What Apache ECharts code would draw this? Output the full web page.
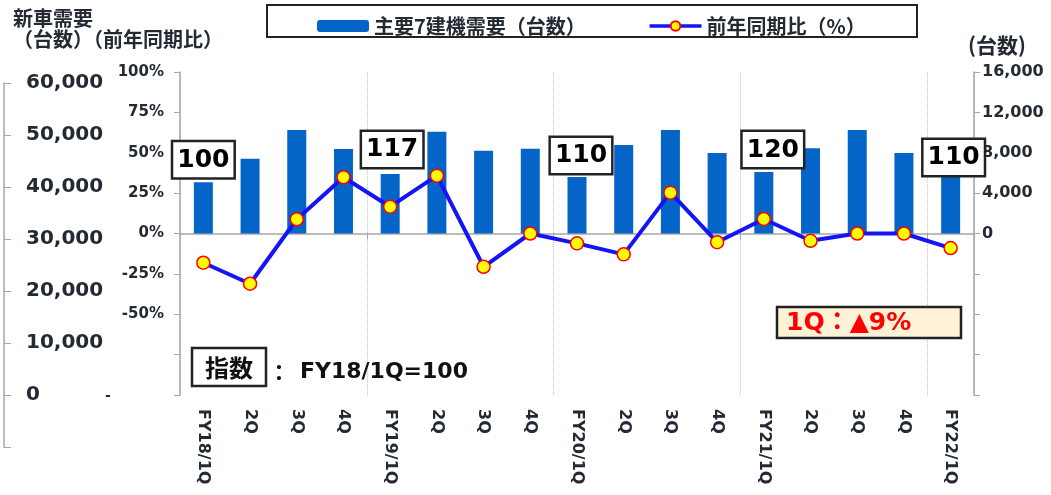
<!DOCTYPE html>
<html>
<head>
<meta charset="utf-8">
<script src="https://cdn.jsdelivr.net/npm/echarts@6/dist/echarts.min.js"></script>
<style>
html,body{margin:0;padding:0;background:#fff;}
#c{width:1051px;height:495px;}
</style>
</head>
<body>
<div id="c"></div>
<script>
// ---- data ----
const categories = ['FY18/1Q','2Q','3Q','4Q','FY19/1Q','2Q','3Q','4Q','FY20/1Q','2Q','3Q','4Q','FY21/1Q','2Q','3Q','4Q','FY22/1Q'];
const demand = [5070, 7410, 10250, 8370, 5900, 10090, 8200, 8400, 5600, 8770, 10250, 7980, 6090, 8440, 10250, 7980, 5600];
const yoy = [-18.1, -31.1, 8.8, 34.8, 16.6, 35.8, -20.6, 0, -6.1, -12.9, 25.3, -5.4, 9.0, -4.5, 0, 0, -9.0];
const indexCats = [0, 4, 8, 12, 16];
const indexLabels = ['100', '117', '110', '120', '110'];
const pctTicks = [-100, 100, 25];
const rightTicks = [-16000, 16000, 4000];
const outerTicks = [-10000, 60000, 10000];
const seriesNames = ['主要7建機需要（台数）', '前年同期比（%）'];

// ---- styles ----
const FONT = 'DejaVu Sans, Verdana, "Noto Sans CJK JP", sans-serif';
const CJK = '"Noto Sans CJK JP", "DejaVu Sans", sans-serif';
const TXT = '#232a33';
const AX = '#a6a6a6';
const labelShift = [[0,0],[2,-2],[4,1],[9,0],[3,3]];

const barData = demand.map((v, i) => {
  const k = indexCats.indexOf(i);
  if (k < 0) return v;
  return {
    value: v,
    label: {
      show: true,
      position: 'top',
      distance: 5,
      formatter: indexLabels[k],
      offset: labelShift[k],
      backgroundColor: '#fff',
      borderColor: '#222',
      borderWidth: 2.5,
      padding: [4, 4, 3, 4],
      lineHeight: 28,
      fontSize: 25,
      fontWeight: 'bold',
      color: '#000',
      fontFamily: FONT
    }
  };
});

const chart = echarts.init(document.getElementById('c'));
chart.setOption({
  animation: false,
  backgroundColor: '#fff',
  legend: {
    left: 312, top: 11,
    itemWidth: 52, itemHeight: 12, itemGap: 62,
    lineStyle: {width: 3.5},
    textStyle: {fontSize: 20, fontWeight: 'bold', color: TXT, fontFamily: CJK},
    data: seriesNames
  },
  grid: [
    {left: 180, right: 77, top: 72, bottom: 100},
    {left: 4, width: 10, top: 83, height: 364}
  ],
  xAxis: [
    {
      type: 'category', gridIndex: 0, data: categories, position: 'bottom',
      axisLine: {show: false, onZero: false}, axisTick: {show: false},
      axisLabel: {rotate: -90, margin: 14, fontSize: 16, fontWeight: 'bold', color: TXT, fontFamily: FONT, interval: 0}
    },
    {
      type: 'category', gridIndex: 0, data: categories, position: 'bottom',
      axisLine: {show: true, onZero: true, onZeroAxisIndex: 0, lineStyle: {color: AX, width: 1.5}},
      axisTick: {show: true, interval: 3, length: 6, lineStyle: {color: AX}},
      axisLabel: {show: false},
      splitLine: {show: true, interval: 3, lineStyle: {type: 'dotted', color: '#c4c4c4', width: 1}}
    },
    {type: 'value', gridIndex: 1, show: false}
  ],
  yAxis: [
    {
      type: 'value', gridIndex: 0, position: 'left',
      min: pctTicks[0], max: pctTicks[1], interval: pctTicks[2],
      axisLine: {show: true, lineStyle: {color: AX, width: 1.5}},
      axisTick: {show: true, length: 6, lineStyle: {color: AX}},
      splitLine: {show: false},
      axisLabel: {
        margin: 16, fontSize: 15, fontWeight: 'bold', color: TXT, fontFamily: FONT,
        formatter: v => (v < -50 ? '' : v + '%')
      }
    },
    {
      type: 'value', gridIndex: 0, position: 'right',
      min: rightTicks[0], max: rightTicks[1], interval: rightTicks[2],
      axisLine: {show: true, lineStyle: {color: AX, width: 1.5}},
      axisTick: {show: true, length: 6, lineStyle: {color: AX}},
      splitLine: {show: false},
      axisLabel: {
        margin: 8, fontSize: 16, fontWeight: 'bold', color: TXT, fontFamily: FONT,
        formatter: v => (v < 0 ? '' : v.toLocaleString('en-US'))
      }
    },
    {
      type: 'value', gridIndex: 1, position: 'left',
      min: outerTicks[0], max: outerTicks[1], interval: outerTicks[2],
      axisLine: {show: true, lineStyle: {color: AX, width: 1.5}},
      axisTick: {show: true, inside: true, length: 7, lineStyle: {color: AX}},
      splitLine: {show: false},
      axisLabel: {
        inside: true, align: 'left', margin: 22,
        fontSize: 20, fontWeight: 'bold', color: TXT, fontFamily: FONT,
        formatter: v => (v < 0 ? '' : v.toLocaleString('en-US'))
      }
    }
  ],
  series: [
    {
      name: seriesNames[0], type: 'bar', xAxisIndex: 0, yAxisIndex: 1,
      barWidth: 19, data: barData, z: 2,
      itemStyle: {color: '#0564c8'},
      label: {show: false}
    },
    {
      name: seriesNames[1], type: 'line', xAxisIndex: 0, yAxisIndex: 0,
      data: yoy, z: 3,
      lineStyle: {color: '#1414f5', width: 4},
      symbol: 'circle', symbolSize: 13,
      itemStyle: {color: '#ffff00', borderColor: '#ff0000', borderWidth: 1.5}
    }
  ],
  graphic: [
    {type: 'text', left: 13, top: 8, style: {text: '新車需要', fontSize: 20, fontWeight: 'bold', fill: TXT, fontFamily: CJK}},
    {type: 'text', left: 13, top: 29, style: {text: '（台数）（前年同期比）', fontSize: 20, fontWeight: 'bold', fill: TXT, fontFamily: CJK}},
    {type: 'text', left: 968, top: 35, style: {text: '(台数)', fontSize: 21, fontWeight: 'bold', fill: TXT, fontFamily: CJK}},
    {type: 'rect', shape: {x: 267, y: 5, width: 650, height: 32}, style: {fill: 'none', stroke: '#222', lineWidth: 2}, z: 0},
    {type: 'text', x: 105, y: 389, style: {text: '-', fontSize: 14, fontWeight: 'bold', fill: TXT, fontFamily: FONT}},
    {type: 'rect', shape: {x: 192, y: 348, width: 74, height: 38}, style: {fill: '#fff', stroke: '#222', lineWidth: 2.5}, z: 10},
    {type: 'text', x: 229, y: 368, z: 11, style: {text: '指数', fontSize: 24, fontWeight: 'bold', fill: '#111', fontFamily: CJK, align: 'center', verticalAlign: 'middle'}},
    {type: 'text', x: 268, y: 372, z: 11, style: {text: '：', fontSize: 22, fontWeight: 'bold', fill: '#111', fontFamily: CJK, verticalAlign: 'middle'}},
    {type: 'text', x: 300, y: 372, z: 11, style: {text: 'FY18/1Q=100', fontSize: 22, fontWeight: 'bold', fill: '#111', fontFamily: FONT, verticalAlign: 'middle'}},
    {type: 'rect', shape: {x: 777, y: 307, width: 184, height: 31}, style: {fill: '#fff2d6', stroke: '#222', lineWidth: 2.5}, z: 10},
    {type: 'text', x: 786, y: 323, z: 11, style: {text: '1Q：▲9%', fontSize: 25, fontWeight: 'bold', fill: '#ff0000', fontFamily: FONT, verticalAlign: 'middle'}}
  ]
});
</script>
</body>
</html>
